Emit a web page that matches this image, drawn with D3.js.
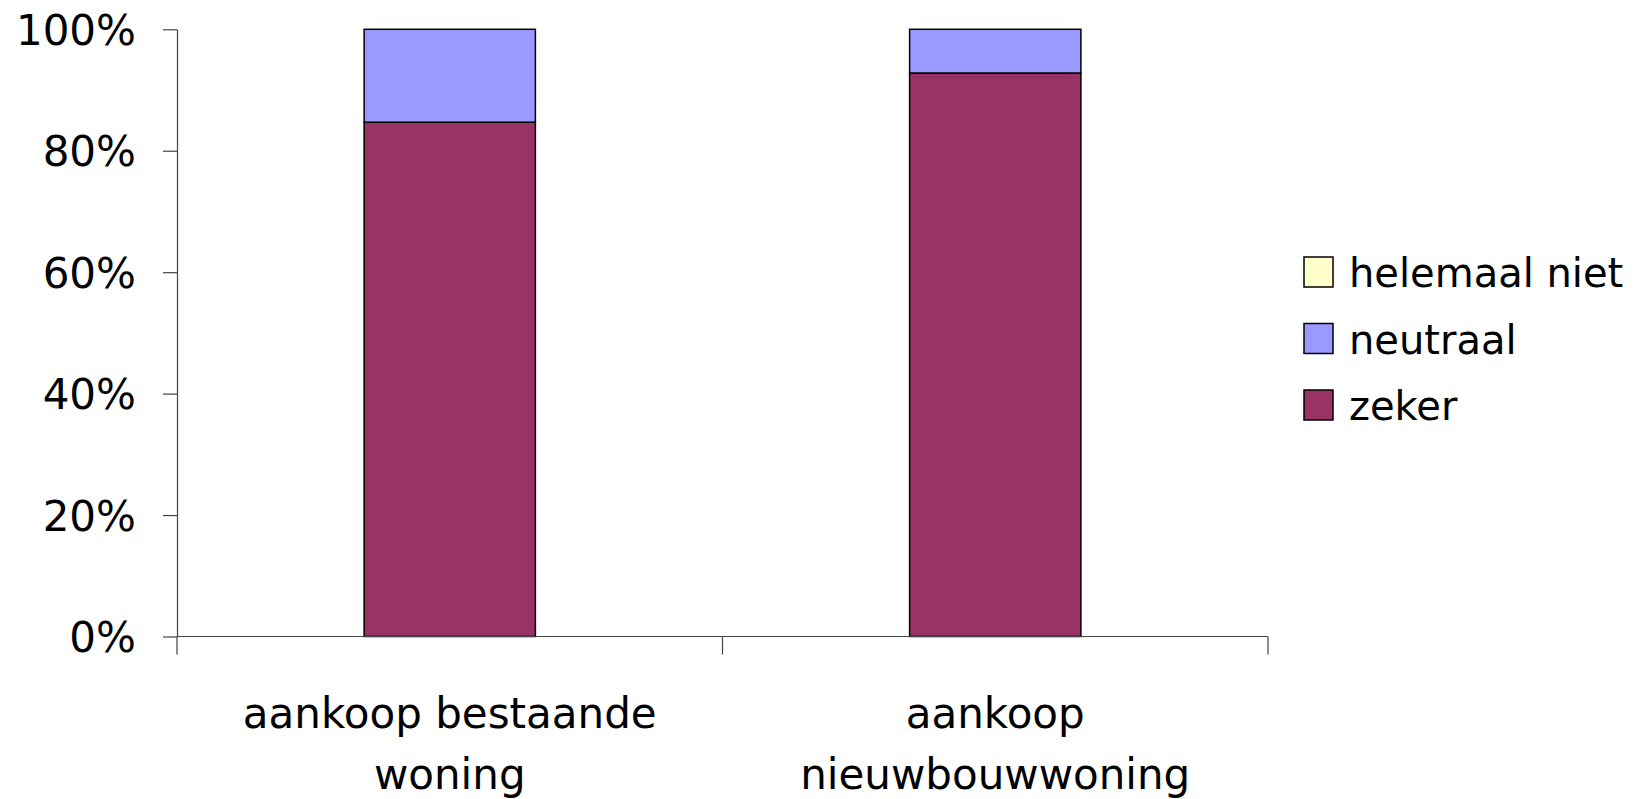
<!DOCTYPE html>
<html>
<head>
<meta charset="utf-8">
<script src="https://cdn.jsdelivr.net/npm/d3@7"></script>
<style>
  html, body { margin: 0; padding: 0; background: #fff; }
  svg { display: block; }
  text { font-family: "DejaVu Sans", sans-serif; fill: #000; }
</style>
</head>
<body>
<svg id="chart" width="1636" height="799"></svg>
<script>
// ---- data ----
const categories = ["aankoop bestaande woning", "aankoop nieuwbouwwoning"];
const categoryLines = [["aankoop bestaande", "woning"], ["aankoop", "nieuwbouwwoning"]];
const seriesNames = ["zeker", "neutraal", "helemaal niet"];
const zeker = [84.7, 92.8];
const neutraal = [15.3, 7.2];
const helemaalNiet = [0, 0];
const yTickValues = [0, 0.2, 0.4, 0.6, 0.8, 1.0];
const seriesColors = ["#993366", "#9999FF", "#FFFFCC"];

// ---- layout ----
const svg = d3.select("#chart");
const plot = { left: 177, right: 1268, top: 29.3, bottom: 636.5 };
const fontSize = 42;
const legendFontSize = 40;

const rows = categories.map((c, i) => ({
  cat: c,
  "zeker": zeker[i],
  "neutraal": neutraal[i],
  "helemaal niet": helemaalNiet[i]
}));
// normalise to 100%
rows.forEach(r => {
  const tot = seriesNames.reduce((s, k) => s + r[k], 0);
  seriesNames.forEach(k => r[k] = r[k] / tot);
});

const x = d3.scaleBand().domain(categories).range([plot.left, plot.right]).padding(0);
const y = d3.scaleLinear().domain([0, 1]).range([plot.bottom, plot.top]);
const color = d3.scaleOrdinal().domain(seriesNames).range(seriesColors);
const barW = x.bandwidth() * 0.314;

const stacked = d3.stack().keys(seriesNames)(rows);

// bars
const g = svg.append("g");
stacked.forEach(layer => {
  g.selectAll(null).data(layer).enter().append("rect")
    .attr("x", d => x(d.data.cat) + x.bandwidth() / 2 - barW / 2)
    .attr("width", barW)
    .attr("y", d => y(d[1]))
    .attr("height", d => y(d[0]) - y(d[1]))
    .attr("fill", color(layer.key))
    .attr("stroke", "#000")
    .attr("stroke-width", 1.5);
});

// y axis
const yAxis = d3.axisLeft(y).tickValues(yTickValues).tickFormat(d3.format(".0%"))
  .tickSize(14).tickSizeOuter(0).tickPadding(27);
const yg = svg.append("g").attr("transform", `translate(${plot.left},0)`).call(yAxis);
yg.select(".domain").attr("stroke", "#444").attr("stroke-width", 1.2);
yg.selectAll(".tick line").attr("stroke", "#444").attr("stroke-width", 1.2);
yg.selectAll(".tick text").attr("font-size", fontSize).attr("font-family", "DejaVu Sans")
  .attr("dy", "0.36em");

// x axis line
svg.append("line")
  .attr("x1", plot.left).attr("x2", plot.right)
  .attr("y1", y(0)).attr("y2", y(0))
  .attr("stroke", "#444").attr("stroke-width", 1.2);
// category separators
const bounds = categories.map(c => x(c)).concat([x(categories[categories.length - 1]) + x.bandwidth()]);
svg.selectAll(null).data(bounds).enter().append("line")
  .attr("x1", d => d).attr("x2", d => d)
  .attr("y1", y(0)).attr("y2", y(0) + 18)
  .attr("stroke", "#444").attr("stroke-width", 1.2);

// x labels
categories.forEach((c, i) => {
  const t = svg.append("text")
    .attr("text-anchor", "middle")
    .attr("font-size", fontSize)
    .attr("x", x(c) + x.bandwidth() / 2)
    .attr("y", 728);
  categoryLines[i].forEach((line, j) => {
    t.append("tspan").attr("x", x(c) + x.bandwidth() / 2).attr("dy", j === 0 ? 0 : 61).text(line);
  });
});

// legend
const legendItems = seriesNames.slice().reverse();
const lg = svg.append("g").attr("transform", "translate(1304,257)");
legendItems.forEach((k, i) => {
  const row = lg.append("g").attr("transform", `translate(0,${i * 66.5})`);
  row.append("rect").attr("width", 29).attr("height", 30)
    .attr("fill", color(k)).attr("stroke", "#000").attr("stroke-width", 1.5);
  row.append("text").attr("x", 45).attr("y", 30).attr("font-size", legendFontSize).text(k);
});
</script>
</body>
</html>
